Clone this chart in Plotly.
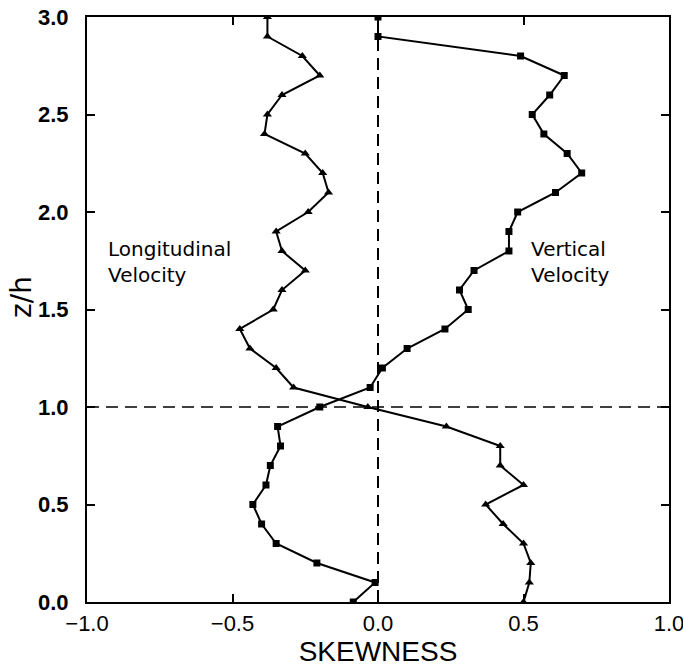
import plotly.graph_objects as go

# Height above the bed, normalised by roughness height
z_h = [3.0, 2.9, 2.8, 2.7, 2.6, 2.5, 2.4, 2.3, 2.2, 2.1, 2.0, 1.9, 1.8, 1.7,
       1.6, 1.5, 1.4, 1.3, 1.2, 1.1, 1.0, 0.9, 0.8, 0.7, 0.6, 0.5, 0.4, 0.3,
       0.2, 0.1, 0.0]

# Skewness of the longitudinal velocity component
skew_long = [-0.38, -0.38, -0.26, -0.20, -0.33, -0.38, -0.39, -0.25, -0.19,
             -0.17, -0.24, -0.35, -0.33, -0.25, -0.33, -0.36, -0.475, -0.44,
             -0.35, -0.29, -0.035, 0.235, 0.42, 0.42, 0.50, 0.37, 0.43, 0.50,
             0.525, 0.52, 0.50]

# Skewness of the vertical velocity component
skew_vert = [0.0, 0.0, 0.49, 0.64, 0.59, 0.53, 0.57, 0.65, 0.70, 0.61, 0.48,
             0.45, 0.45, 0.33, 0.28, 0.31, 0.23, 0.10, 0.015, -0.027, -0.20,
             -0.345, -0.335, -0.37, -0.385, -0.43, -0.40, -0.35, -0.21, -0.01,
             -0.085]

x_ticks = [-1.0, -0.5, 0.0, 0.5, 1.0]
y_ticks = [0.0, 0.5, 1.0, 1.5, 2.0, 2.5, 3.0]

fig = go.Figure()

# Reference lines at zero skewness and at z/h = 1
fig.add_trace(go.Scatter(x=[0, 0], y=[0, 3], mode="lines",
                         line=dict(color="black", width=2, dash="12px,7px"),
                         hoverinfo="skip", showlegend=False))
fig.add_trace(go.Scatter(x=[-1, 1], y=[1, 1], mode="lines",
                         line=dict(color="black", width=1.5, dash="12px,7px"),
                         hoverinfo="skip", showlegend=False))

fig.add_trace(go.Scatter(
    x=skew_long, y=z_h, mode="lines+markers", name="Longitudinal Velocity",
    line=dict(color="black", width=2),
    marker=dict(symbol="triangle-up", size=8, color="black"),
    showlegend=False))

fig.add_trace(go.Scatter(
    x=skew_vert, y=z_h, mode="lines+markers", name="Vertical Velocity",
    line=dict(color="black", width=2),
    marker=dict(symbol="square", size=7, color="black"),
    showlegend=False))

label_font = dict(family="DejaVu Sans, sans-serif", size=20, color="black")
fig.add_annotation(x=-0.935, y=1.745, xref="x", yref="y", text="Longitudinal<br>Velocity",
                   showarrow=False, xanchor="left", yanchor="middle", align="left",
                   font=label_font)
fig.add_annotation(x=0.52, y=1.745, xref="x", yref="y", text="Vertical<br>Velocity",
                   showarrow=False, xanchor="left", yanchor="middle", align="left",
                   font=label_font)

# Vertical axis title, sitting a little above the axis midpoint
fig.add_annotation(xref="paper", yref="paper",
                   x=(21 - 87) / 582, y=(602 - 297) / 585,
                   xanchor="center", yanchor="middle",
                   text="z/h", showarrow=False, textangle=-90,
                   font=dict(family="DejaVu Sans, sans-serif", size=28, color="black"))

fig.update_layout(
    width=683, height=667,
    margin=dict(l=87, r=14, t=17, b=65),
    paper_bgcolor="white", plot_bgcolor="white",
    font=dict(family="Liberation Sans, Arial, sans-serif", color="black"),
    xaxis=dict(
        range=[-1, 1], tickvals=x_ticks,
        ticktext=[f"{v:.1f}".replace("-", "\u2212") for v in x_ticks],
        automargin=False, ticklabeloverflow="allow",
        showgrid=False, zeroline=False,
        showline=True, linecolor="black", linewidth=2, mirror="ticks",
        ticks="inside", ticklen=8, tickwidth=2, tickcolor="black",
        tickfont=dict(size=22, family="Liberation Sans, Arial, sans-serif"),
        ticklabelstandoff=1,
        title=dict(text="SKEWNESS", standoff=4,
                   font=dict(size=28, family="Liberation Sans, Arial, sans-serif")),
    ),
    yaxis=dict(
        range=[0, 3], tickvals=y_ticks, ticktext=[f"{v:.1f}" for v in y_ticks],
        automargin=False, ticklabeloverflow="allow",
        showgrid=False, zeroline=False,
        showline=True, linecolor="black", linewidth=2, mirror="ticks",
        ticks="inside", ticklen=8, tickwidth=2, tickcolor="black",
        tickfont=dict(size=22, family="Liberation Sans, Arial, sans-serif", weight="bold"),
        ticklabelstandoff=12,
    ),
)

fig.write_html("out.html")
